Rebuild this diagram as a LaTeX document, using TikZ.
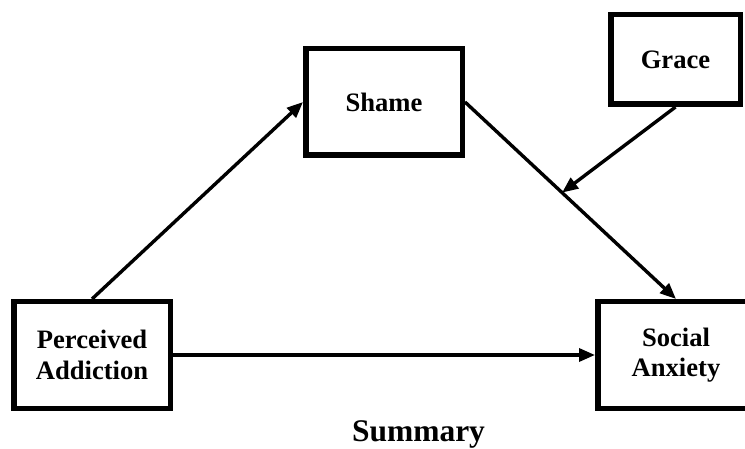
\documentclass[tikz,border=0pt]{standalone}
\usepackage{fontspec}
\setmainfont{Liberation Serif}
\usetikzlibrary{arrows.meta}
\begin{document}
\begin{tikzpicture}[x=1pt,y=-1pt,line join=miter,>={Triangle[length=16pt,width=13pt]},
	box/.style={draw,line width=5.5pt,minimum width=156.5pt,minimum height=106.5pt,inner sep=0pt,align=center,font=\bfseries\fontsize{26.6}{30.5}\selectfont},
	link/.style={->,line width=3.4pt}]
		\clip (0,0) rectangle (745,449);
		\node[box] (PA) at (92,355) {Perceived\\Addiction};
		\node[box] (Shame) at (384,102) {Shame};
		\node[box,minimum width=129.5pt,minimum height=89.5pt] (Grace) at (675.5,59.5) {Grace};
		\node[box] (Social) at (676,355) {Social\\Anxiety};
		\node[anchor=base,font=\bfseries\fontsize{31.5}{36}\selectfont] (Sum) at (418.5,441) {Summary};
		% paths
		\draw[link] (PA.north) -- (Shame.west);
		\draw[link] (Shame.east) -- (Social.north) coordinate[pos=0.46] (mid);
		\draw[link] (Grace.south) -- (mid);
		\draw[link] (PA.east) -- (Social.west);
		\end{tikzpicture}
\end{document}
